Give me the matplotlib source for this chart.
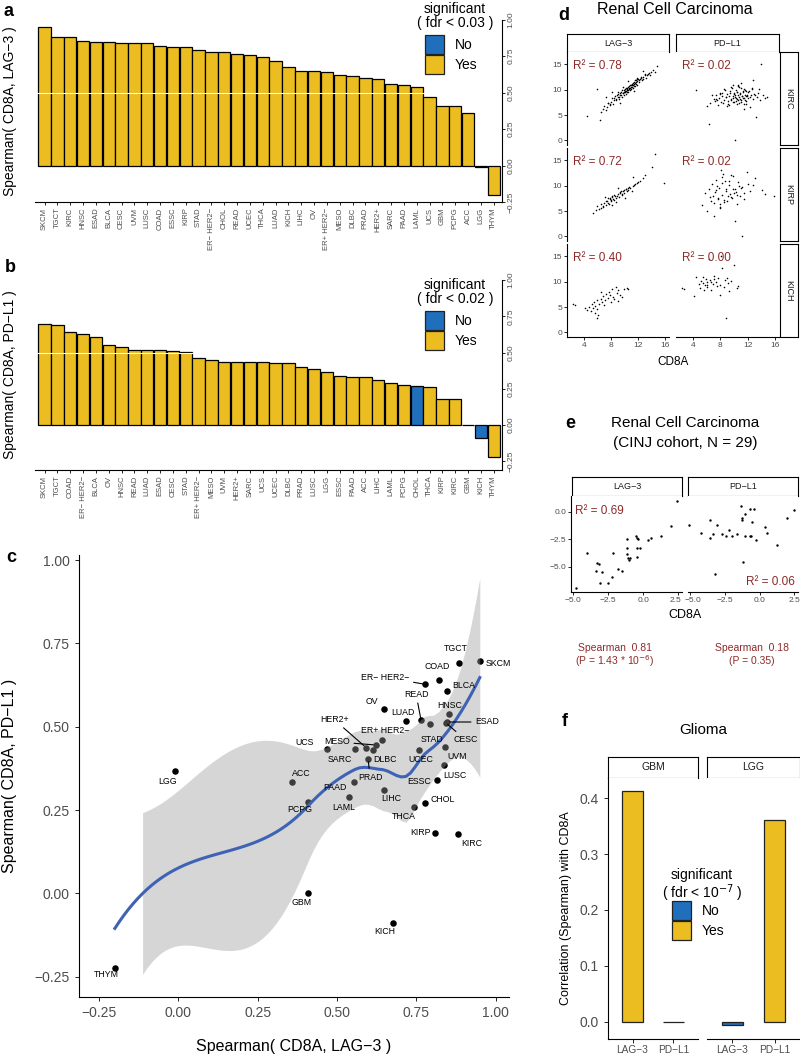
import numpy as np
import matplotlib as mpl
import matplotlib.pyplot as plt
import matplotlib.transforms as mtransforms
from matplotlib.patches import Rectangle

mpl.rcParams['font.family'] = ['Liberation Sans', 'DejaVu Sans']
mpl.rcParams['axes.linewidth'] = 0.8
mpl.rcParams['xtick.major.width'] = 0.6
mpl.rcParams['ytick.major.width'] = 0.6
mpl.rcParams['xtick.major.size'] = 2.5
mpl.rcParams['ytick.major.size'] = 2.5

#-----------------------------------------------------------------------------
# data: TCGA Spearman correlations (panels a, b, c)
cancers = ["SKCM", "TGCT", "KIRC", "HNSC", "ESAD", "BLCA", "CESC", "UVM", "LUSC",
           "COAD", "ESSC", "KIRP", "STAD", "ER\u2212 HER2\u2212", "CHOL", "READ", "UCEC",
           "THCA", "LUAD", "KICH", "LIHC", "OV", "ER+ HER2\u2212", "MESO", "DLBC", "PRAD",
           "HER2+", "SARC", "PAAD", "LAML", "UCS", "GBM", "PCPG", "ACC", "LGG", "THYM"]
rho_lag3 = [0.95, 0.884, 0.88, 0.852, 0.847, 0.847, 0.842, 0.84, 0.838,
            0.822, 0.815, 0.81, 0.792, 0.778, 0.776, 0.765, 0.758,
            0.742, 0.717, 0.678, 0.648, 0.648, 0.642, 0.623, 0.612, 0.598,
            0.592, 0.557, 0.553, 0.537, 0.468, 0.409, 0.409, 0.359, -0.01, -0.2]
rho_pdl1 = [0.696, 0.692, 0.178, 0.539, 0.514, 0.606, 0.512, 0.438, 0.385,
            0.641, 0.341, 0.182, 0.507, 0.627, 0.27, 0.519, 0.431,
            0.26, 0.516, -0.09, 0.311, 0.553, 0.459, 0.445, 0.430, 0.403,
            0.437, 0.433, 0.334, 0.29, 0.432, 0.0, 0.275, 0.333, 0.367, -0.223]
sig_lag3 = [True]*34 + [False, True]
sig_pdl1 = [n not in ("CHOL", "KICH") for n in cancers]

# label offsets in panel c (pixels, right / down) and leader lines
lab_off = {"SKCM": (6, 2, 'left'), "TGCT": (-3, -14), "COAD": (-2, -13), "ER\u2212 HER2\u2212": (-40, -7),
           "BLCA": (17, -6), "READ": (-5, -26), "OV": (-12, -7), "LUAD": (-3, -9), "HNSC": (1, -8),
           "ESAD": (28, 0, 'left'), "HER2+": (-32, -28), "ER+ HER2\u2212": (3, -10), "STAD": (2, 15),
           "CESC": (20, 17), "MESO": (-39, -3), "UCS": (-22, -7), "SARC": (-15, 10), "DLBC": (12, 10),
           "UCEC": (2, 10), "UVM": (12, 9), "PRAD": (2, 18), "ACC": (9, -9), "PAAD": (-19, 6),
           "LUSC": (11, 11), "ESSC": (-18, 2), "LIHC": (7, 9), "CHOL": (18, -4), "LAML": (-5, 11),
           "PCPG": (-8, 8), "THCA": (-10, 10), "KIRP": (-15, 0), "KIRC": (14, 9), "LGG": (-8, 11),
           "GBM": (-7, 9), "KICH": (-9, 8), "THYM": (-9, 7)}
leader = ["ER\u2212 HER2\u2212", "READ", "ESAD", "HER2+", "MESO", "CESC", "PRAD"]

# panel d: TCGA renal (CD8A vs LAG-3 / PD-L1)
kirc_cd8a = [4.5, 6.0, 6.4, 14.8, 6.5, 6.8, 7.0, 7.2, 7.4, 7.6, 7.8, 8.0, 8.1, 8.3, 8.5, 8.6,
             8.8, 9.0, 9.1, 9.2, 9.4, 9.5, 9.6, 9.8, 9.9, 10.0, 10.1, 10.2, 10.3, 10.4, 10.5,
             10.6, 10.7, 10.8, 10.9, 11.0, 11.1, 11.2, 11.3, 11.4, 11.5, 11.6, 11.7, 11.8,
             11.9, 12.0, 12.2, 12.3, 12.5, 12.6, 12.8, 13.0, 13.2, 13.4, 13.6, 13.8, 14.0,
             14.3, 14.5, 8.2, 9.3, 10.6, 11.4, 7.3, 12.8,
             7.5, 7.9, 8.4, 8.7, 8.9, 9.15, 9.35, 9.55, 9.7, 9.85, 9.95, 10.05, 10.15, 10.25,
             10.35, 10.45, 10.55, 10.65, 10.75, 10.85, 10.95, 11.05, 11.15, 11.25, 11.35,
             11.45, 11.55, 11.65, 11.75, 11.85, 12.1, 12.4, 12.7, 13.1, 13.5, 9.0, 9.8, 10.4,
             11.0, 11.8]
kirc_lag3 = [4.9, 10.1, 4.1, 14.7, 5.6, 6.2, 6.8, 5.9, 6.5, 7.3, 6.9, 7.6, 8.3, 7.2, 8.0, 8.8,
             7.9, 8.5, 9.2, 8.1, 8.9, 9.6, 8.6, 9.3, 10.0, 8.9, 9.6, 10.3, 9.2, 9.9, 10.6,
             9.6, 10.2, 10.9, 10.0, 10.6, 11.2, 10.3, 10.9, 11.5, 10.7, 11.3, 11.9, 11.0,
             11.6, 12.1, 11.4, 12.0, 12.5, 11.8, 12.4, 12.9, 12.3, 12.9, 13.3, 12.8, 13.5,
             13.9, 13.4, 9.5, 7.3, 11.6, 9.8, 8.5, 13.6,
             7.4, 7.2, 8.4, 8.2, 9.0, 8.6, 9.4, 9.0, 9.9, 9.4, 9.6, 10.2, 9.8, 9.7, 10.4,
             10.1, 10.0, 10.8, 10.4, 10.3, 11.0, 10.9, 10.5, 11.3, 11.1, 10.8, 11.8, 11.2,
             11.4, 12.0, 11.9, 12.3, 12.0, 13.0, 13.0, 9.6, 10.5, 9.6, 10.2, 12.2]
kirc_pdl1 = [9.9, 6.8, 3.2, 8.6, 7.4, 9.0, 8.1, 7.7, 8.9, 6.9, 8.3, 9.4, 7.5, 8.8, 10.2, 7.9,
             8.5, 9.1, 7.2, 8.7, 9.8, 8.0, 10.5, 7.6, 8.4, 9.3, 0.0, 8.9, 7.8, 9.6, 8.2,
             10.8, 7.4, 8.6, 9.2, 11.3, 8.0, 8.8, 9.5, 7.1, 8.4, 10.0, 8.7, 7.7, 9.0,
             8.3, 9.7, 6.6, 8.9, 10.4, 8.1, 9.2, 4.6, 8.6, 10.1, 7.9, 15.1, 9.0, 8.4, 9.3,
             7.0, 10.9, 6.2, 8.2, 11.9,
             8.0, 9.2, 7.3, 9.9, 8.5, 7.8, 9.4, 8.2, 10.3, 8.8, 7.5, 9.1, 8.6, 10.0, 8.3,
             9.5, 7.9, 8.9, 10.6, 8.1, 9.3, 7.6, 8.7, 9.8, 8.4, 10.2, 8.0, 9.0, 7.2, 8.8,
             9.6, 8.5, 10.1, 8.9, 9.4, 6.8, 11.0, 7.1, 10.4, 9.7]
kirp_cd8a = [5.3, 5.8, 6.0, 6.3, 6.6, 6.8, 7.0, 7.2, 7.4, 7.6, 7.8, 8.0, 8.2, 8.4, 8.6, 8.8,
             9.0, 9.2, 9.4, 9.6, 9.8, 10.0, 10.2, 10.4, 10.6, 10.9, 11.2, 11.5, 11.9, 12.3,
             12.8, 13.1, 14.1, 14.6, 7.1, 8.1, 9.1, 10.1, 11.1, 8.7, 15.9, 11.2,
             6.9, 7.3, 7.7, 8.3, 8.5, 8.9, 9.3, 9.7, 10.3, 10.7, 7.5, 8.0, 9.5, 10.5, 6.5,
             9.9, 8.2, 11.4, 12.0, 7.9]
kirp_lag3 = [4.6, 5.2, 5.9, 5.4, 6.3, 5.8, 6.6, 6.1, 7.0, 6.5, 7.3, 6.9, 7.7, 7.1, 8.0, 7.5,
             8.4, 7.8, 8.7, 8.2, 9.0, 8.6, 9.3, 8.9, 9.6, 9.5, 10.0, 10.3, 10.6, 11.0,
             11.5, 12.1, 13.6, 16.2, 7.8, 6.2, 9.6, 7.6, 9.0, 6.8, 10.5, 11.6,
             6.0, 7.0, 6.4, 7.4, 8.1, 8.0, 8.6, 8.4, 9.4, 9.8, 7.5, 7.1, 9.0, 9.2, 5.6,
             9.1, 7.9, 10.1, 10.8, 7.6]
kirp_pdl1 = [6.2, 8.5, 5.1, 9.3, 7.0, 10.4, 6.6, 8.8, 11.2, 7.4, 9.6, 5.8, 8.1, 12.3, 7.2, 9.0,
             6.9, 10.1, 8.3, 7.7, 11.8, 8.6, 9.4, 6.4, 10.7, 8.0, 9.8, 7.3, 12.6, 8.9,
             10.2, 11.5, 9.1, 8.4, 4.0, 13.0, 7.9, 3.1, 9.5, 10.9, 7.9, 0.0,
             8.0, 9.1, 7.6, 10.5, 6.8, 9.3, 11.0, 7.5, 8.7, 9.9, 10.0, 6.3, 12.0, 8.2, 7.8,
             9.4, 11.6, 8.6, 10.3, 5.5]
kich_cd8a = [2.35, 2.7, 4.2, 4.5, 4.8, 5.0, 5.2, 5.4, 5.5, 5.7, 5.9, 6.0, 6.1, 6.3, 6.5,
             6.7, 6.9, 7.1, 7.3, 7.5, 7.7, 7.9, 8.1, 8.3, 8.5, 8.7, 8.9, 9.1, 9.3, 9.6,
             10.0, 10.4, 10.6, 6.0, 7.0, 8.0, 9.0, 5.6, 6.6]
kich_lag3 = [5.5, 5.3, 4.8, 4.5, 5.0, 4.2, 5.6, 4.8, 5.9, 5.2, 6.3, 2.8, 3.4, 5.6, 6.6,
             5.9, 7.1, 6.4, 7.6, 6.8, 8.0, 7.3, 8.6, 7.0, 6.6, 8.9, 7.7, 8.3, 7.3, 6.9,
             8.5, 8.7, 8.6, 4.6, 5.4, 5.9, 6.1, 3.9, 7.9]
kich_pdl1 = [8.7, 8.6, 7.1, 10.9, 9.5, 8.8, 10.2, 9.8, 11.0, 9.3, 10.6, 8.9, 9.9, 14.4, 10.3,
             8.4, 9.6, 11.2, 10.0, 9.1, 10.7, 9.4, 15.0, 12.6, 9.0, 10.4, 2.9, 9.7, 8.2,
             10.1, 13.3, 8.8, 9.2, 9.4, 10.5, 7.3, 10.8, 8.3, 9.9]
renal_rows = [("KIRC", kirc_cd8a, kirc_lag3, kirc_pdl1, "0.78", "0.02"),
              ("KIRP", kirp_cd8a, kirp_lag3, kirp_pdl1, "0.72", "0.02"),
              ("KICH", kich_cd8a, kich_lag3, kich_pdl1, "0.40", "0.00")]

# panel e: CINJ cohort, N = 29
cinj_cd8a_l = [2.38, 1.97, 1.24, 0.53, 0.37, -0.22, -0.41, -0.41, -0.5, -0.45, -0.4, -1.17,
               -1.17, -1.17, -1.1, -0.98, -0.93, -2.12, -1.76, -1.53, -3.3, -3.13, -3.35,
               -2.94, -3.06, -2.54, -2.23, -4.0, -4.79]
cinj_lag3 = [0.97, -1.30, -2.15, -2.33, -2.52, -3.24, -3.24, -4.09, -2.2, -2.35, -2.5, -2.42,
             -3.33, -3.79, -4.24, -4.39, -4.2, -3.73, -5.21, -5.39, -4.64, -4.76, -5.39,
             -5.52, -6.52, -6.45, -5.91, -3.70, -6.91]
cinj_cd8a_p = [-5.05, -4.21, -3.57, -3.53, -3.35, -3.08, -2.67, -2.42, -2.22, -1.98, -1.61,
               -1.31, -1.26, -1.24, -1.02, -1.02, -0.70, -0.41, -0.51, -0.70, -0.58, -0.26,
               -1.19, -3.23, 0.41, 0.53, 1.22, 2.0, 2.44]
cinj_pdl1 = [-1.21, -1.91, -0.76, -2.33, -1.97, -1.15, -2.03, -2.21, -1.61, -2.21, -2.03,
             0.55, -0.55, -0.70, -0.15, -2.21, 0.30, 0.30, -0.91, -2.21, -2.21, -2.58,
             -4.55, -5.67, -1.36, -1.88, -3.03, -0.52, 0.21]

# panel f: glioma
glioma_type = ["GBM", "GBM", "LGG", "LGG"]
glioma_gene = ["LAG\u22123", "PD\u2212L1", "LAG\u22123", "PD\u2212L1"]
glioma_rho = [0.413, 0.0, -0.006, 0.36]
glioma_sig = [True, True, False, True]

#-----------------------------------------------------------------------------
yellow = '#EBBD20'
blue = '#1F6FBD'
red = '#8E2A2A'
tgrey = '#4D4D4D'
W, H = 800, 1055
fig = plt.figure(figsize=(W/100, H/100), dpi=100)

def box(x0, y0, x1, y1):
    return fig.add_axes([x0/W, 1-y1/H, (x1-x0)/W, (y1-y0)/H])

def ftext(x, y, s, **kw):
    fig.text(x/W, 1-y/H, s, **kw)

def legend(x, y, fdr):
    # manual ggplot-like legend, x, y = top left in pixels
    ftext(x + 30, y, "significant", fontsize=10, ha='center', va='top')
    ftext(x + 30, y + 14, fdr, fontsize=10, ha='center', va='top')
    for k, (c, lab) in enumerate([(blue, "No"), (yellow, "Yes")]):
        yy = y + 33 + 20*k
        fig.patches.append(Rectangle((x/W, 1-(yy+19)/H), 19/W, 19/H, transform=fig.transFigure,
                                     facecolor=c, edgecolor='#222222', lw=0.9))
        ftext(x + 30, yy + 10, lab, fontsize=10, va='center')

def bar_panel(rect, names, vals, sig, ylim):
    ax = box(*rect)
    cols = [yellow if s else blue for s in sig]
    ax.bar(np.arange(len(names)), vals, width=0.96, color=cols, edgecolor='black', linewidth=0.9)
    ax.axhline(0.5, color='white', lw=0.8, zorder=3)
    ax.set_xlim(-0.75, len(names) - 0.35)
    ax.set_ylim(*ylim)
    ax.yaxis.tick_right()
    yt = [-0.25, 0, 0.25, 0.5, 0.75, 1.0]
    ax.set_yticks(yt)
    ax.set_yticklabels(["\u22120.25", "0.00", "0.25", "0.50", "0.75", "1.00"], rotation=90,
                       va='center', fontsize=6, color=tgrey)
    ax.set_xticks(range(len(names)))
    ax.set_xticklabels(names, rotation=90, fontsize=5.5, color=tgrey)
    ax.tick_params(pad=1.5)
    ax.spines[['left', 'top']].set_visible(False)
    return ax

# ---- a
bar_panel((35, 19.7, 502, 202), cancers, rho_lag3, sig_lag3, (-0.25, 1.0))
ftext(10, 111, "Spearman( CD8A, LAG\u22123 )", rotation=90, fontsize=10, ha='center', va='center')
ftext(4, 12, "a", fontsize=13, fontweight='bold', va='center')
legend(425, 2, "( fdr < 0.03 )")

# ---- b
ob = np.argsort(-np.array(rho_pdl1), kind='stable')
bar_panel((35, 280, 502, 470), [cancers[i] for i in ob], [rho_pdl1[i] for i in ob],
          [sig_pdl1[i] for i in ob], (-0.31, 1.0))
ftext(10, 375, "Spearman( CD8A, PD\u2212L1 )", rotation=90, fontsize=10, ha='center', va='center')
ftext(5, 267, "b", fontsize=13, fontweight='bold', va='center')
legend(425, 278, "( fdr < 0.02 )")

# ---- c : loess smoother (span .75, degree 2, kd-tree vertices + cubic Hermite, as in R)
def local_fit(x, x0s, span=0.75):
    n = len(x)
    q = int(np.floor(n*span))
    V = np.zeros((len(x0s), n)); S = np.zeros((len(x0s), n))
    for i, x0 in enumerate(x0s):
        d = np.abs(x - x0)
        h = np.sort(d)[q-1]
        w = np.clip(1 - (d/h)**3, 0, None)**3
        X = np.column_stack([np.ones(n), x - x0, (x - x0)**2])
        XtW = X.T*w
        B = np.linalg.solve(XtW @ X, XtW)
        V[i] = B[0]; S[i] = B[1]
    return V, S

def kd_vertices(x, fc):
    xs_ = np.sort(x); n = len(xs_)
    mu = 0.005*(xs_[-1] - xs_[0])
    out = []
    def split(l, u, a, b):
        if u - l + 1 <= fc:
            return
        m = (l + u)//2
        off = 0
        while l <= m + off < u:
            if xs_[m+off] == xs_[m+off+1]:
                off = -off
                if off >= 0:
                    off += 1
            else:
                m = m + off
                break
        t = xs_[m]
        if t == a or t == b:
            return
        split(l, m, a, t); out.append(t); split(m+1, u, t, b)
    split(0, n-1, xs_[0] - mu, xs_[-1] + mu)
    return np.array([xs_[0] - mu] + out + [xs_[-1] + mu])

def interp_rows(xq, vt, V, S):
    rows = []
    for x0 in xq:
        j = int(np.clip(np.searchsorted(vt, x0) - 1, 0, len(vt) - 2))
        h = vt[j+1] - vt[j]; t = (x0 - vt[j])/h
        h00 = 2*t**3 - 3*t**2 + 1; h10 = t**3 - 2*t**2 + t
        h01 = -2*t**3 + 3*t**2; h11 = t**3 - t**2
        rows.append(h00*V[j] + h10*h*S[j] + h01*V[j+1] + h11*h*S[j+1])
    return np.array(rows)

xl = np.array(rho_lag3); yl = np.array(rho_pdl1)
vt = kd_vertices(xl, int(np.floor(len(xl)*0.75*0.2)))
V, S = local_fit(xl, vt)
Ld = interp_rows(xl, vt, V, S)
M = np.eye(len(xl)) - Ld
MM = M.T @ M
d1 = np.trace(MM); d2 = np.trace(MM @ MM)
sig2 = np.sum((M @ yl)**2)/d1
dfree = d1**2/d2
z = 1.959964
tq = z + (z**3 + z)/(4*dfree) + (5*z**5 + 16*z**3 + 3*z)/(96*dfree**2)
xs = np.linspace(xl.min(), xl.max(), 80)
Lg = interp_rows(xs, vt, V, S)
fit = Lg @ yl
se = np.sqrt(sig2*np.sum(Lg**2, axis=1))
lo, hi = fit - tq*se, fit + tq*se

ax = box(79, 555, 509, 997)
cyl = (-0.311, 1.015)
ax.scatter(xl, yl, s=22, color='black', zorder=2, linewidths=0)
ok = (lo >= -0.25) & (hi <= 1.0)
ax.fill_between(xs, lo, hi, where=ok, color='#999999', alpha=0.4, lw=0, zorder=3)
ax.plot(xs, fit, color='#3F63B4', lw=2.2, zorder=4)
for n, xv, yv in zip(cancers, xl, yl):
    o = lab_off[n]
    ha = o[2] if len(o) > 2 else 'center'
    ap = dict(arrowstyle='-', color='black', lw=0.8, shrinkA=1, shrinkB=2) if n in leader else None
    ax.annotate(n, (xv, yv), xytext=(o[0], -o[1]), textcoords='offset pixels', ha=ha, va='center',
                fontsize=6.3, arrowprops=ap, zorder=5)
ax.set_xlim(-0.313, 1.042)
ax.set_ylim(*cyl)
ax.set_xticks([-0.25, 0, 0.25, 0.5, 0.75, 1.0])
ax.set_xticklabels(["\u22120.25", "0.00", "0.25", "0.50", "0.75", "1.00"])
ax.set_yticks([-0.25, 0, 0.25, 0.5, 0.75, 1.0])
ax.set_yticklabels(["\u22120.25", "0.00", "0.25", "0.50", "0.75", "1.00"])
ax.tick_params(labelsize=10, labelcolor=tgrey, length=3)
ax.spines[['right', 'top']].set_visible(False)
ax.set_xlabel("Spearman( CD8A, LAG\u22123 )", fontsize=11.5, labelpad=14)
ftext(10, 776, "Spearman( CD8A, PD\u2212L1 )", rotation=90, fontsize=11.5, ha='center', va='center')
ftext(6, 558, "c", fontsize=13, fontweight='bold', va='center')

# ---- d
def strip(x0, y0, x1, y1, s, rot=0, fs=6.5):
    a = box(x0, y0, x1, y1)
    a.set_xticks([]); a.set_yticks([])
    a.text(0.5, 0.5, s, rotation=rot, ha='center', va='center', fontsize=fs, color='#1A1A1A',
           transform=a.transAxes)

ftext(558, 15, "d", fontsize=13, fontweight='bold', va='center')
ftext(675, 9, "Renal Cell Carcinoma", fontsize=11.5, ha='center', va='center')
cols_d = [(567, 669), (676, 779)]
rows_d = [(52, 145), (148, 241), (244, 337)]
strip(567, 34, 669, 52, "LAG\u22123")
strip(676, 34, 779, 52, "PD\u2212L1")
for r, (name, cx, lag, pdl, r2l, r2p) in enumerate(renal_rows):
    y0, y1 = rows_d[r]
    strip(780, y0, 798, y1, name, rot=-90)
    for c, (yy, r2) in enumerate([(lag, r2l), (pdl, r2p)]):
        x0, x1 = cols_d[c]
        a = box(x0, y0, x1, y1)
        a.scatter(cx, yy, s=1.3, color='black', linewidths=0)
        a.set_xlim(1.5, 16.6); a.set_ylim(-0.9, 17.4)
        a.set_xticks([4, 8, 12, 16]); a.set_yticks([0, 5, 10, 15])
        a.tick_params(labelsize=6, labelcolor=tgrey, length=2, pad=1.5)
        a.spines[['right', 'top']].set_visible(False)
        if c == 1:
            a.spines['left'].set_visible(False)
            a.tick_params(left=False, labelleft=False)
        if r < 2:
            a.spines['bottom'].set_visible(False)
            a.tick_params(bottom=False, labelbottom=False)
        a.text(0.06, 0.85, "R\u00b2 = " + r2, transform=a.transAxes, color=red, fontsize=8.5,
               va='center')
ftext(673, 362, "CD8A", fontsize=8.5, ha='center', va='center')

# ---- e
ftext(565, 423, "e", fontsize=13, fontweight='bold', va='center')
ftext(685, 423, "Renal Cell Carcinoma", fontsize=11, ha='center', va='center')
ftext(685, 443, "(CINJ cohort, N = 29)", fontsize=11, ha='center', va='center')
strip(572, 477, 682, 496, "LAG\u22123")
strip(688, 477, 798, 496, "PD\u2212L1")
for c, (x0, x1, cx, yy) in enumerate([(571, 682, cinj_cd8a_l, cinj_lag3),
                                      (688, 798, cinj_cd8a_p, cinj_pdl1)]):
    a = box(x0, 496, x1, 592)
    a.scatter(cx, yy, s=3, color='black', linewidths=0)
    a.set_xlim(-5.14, 2.76); a.set_ylim(-7.3, 1.46)
    a.set_xticks([-5, -2.5, 0, 2.5]); a.set_xticklabels(["\u22125.0", "\u22122.5", "0.0", "2.5"])
    a.set_yticks([-5, -2.5, 0]); a.set_yticklabels(["\u22125.0", "\u22122.5", "0.0"])
    a.tick_params(labelsize=6, labelcolor=tgrey, length=2, pad=1.5)
    a.spines[['right', 'top']].set_visible(False)
    # nudge the touching end labels ("2.5" | "-5.0") apart a little
    labs = a.get_xticklabels()
    k, dx = (3, -3) if c == 0 else (0, 3)
    labs[k].set_transform(labs[k].get_transform() + mtransforms.ScaledTranslation(dx/100, 0, fig.dpi_scale_trans))
    if c == 1:
        a.spines['left'].set_visible(False)
        a.tick_params(left=False, labelleft=False)
        a.text(0.97, 0.1, "R\u00b2 = 0.06", transform=a.transAxes, color=red, fontsize=8.5,
               ha='right', va='center')
    else:
        a.text(0.04, 0.84, "R\u00b2 = 0.69", transform=a.transAxes, color=red, fontsize=8.5,
               va='center')
ftext(685, 615, "CD8A", fontsize=9, ha='center', va='center')
ftext(615, 648, "Spearman  0.81", fontsize=7.5, color=red, ha='center', va='center')
ftext(615, 661, "(P = 1.43 * 10$^{-6}$)", fontsize=7.5, color=red, ha='center', va='center')
ftext(752, 648, "Spearman  0.18", fontsize=7.5, color=red, ha='center', va='center')
ftext(752, 661, "(P = 0.35)", fontsize=7.5, color=red, ha='center', va='center')

# ---- f
ftext(562, 722, "f", fontsize=13, fontweight='bold', va='center')
ftext(703, 730, "Glioma", fontsize=11, ha='center', va='center')
for k, (t, x0, x1) in enumerate([("GBM", 608, 698), ("LGG", 707, 800)]):
    strip(x0, 757, x1, 778, t, fs=7.5)
    a = box(x0, 778, x1, 1039)
    idx = [i for i in range(4) if glioma_type[i] == t]
    a.bar(range(len(idx)), [glioma_rho[i] for i in idx], width=0.5,
          color=[yellow if glioma_sig[i] else blue for i in idx], edgecolor='#222222', lw=0.9)
    a.set_xlim(-0.6, 1.6)
    a.set_ylim(-0.031, 0.436)
    a.set_xticks(range(len(idx)))
    a.set_xticklabels([glioma_gene[i] for i in idx], fontsize=7.3, color=tgrey)
    a.set_yticks([0, 0.1, 0.2, 0.3, 0.4])
    a.tick_params(axis='y', labelsize=10, labelcolor=tgrey, length=3)
    a.tick_params(axis='x', length=3, pad=1.5)
    a.spines[['right', 'top']].set_visible(False)
    if k == 1:
        a.spines['left'].set_visible(False)
        a.tick_params(left=False, labelleft=False)
ftext(566, 908, "Correlation (Spearman) with CD8A", rotation=90, fontsize=9, ha='center', va='center')
legend(672, 868, "( fdr < 10$^{-7}$ )")

fig.savefig("out.png", dpi=100)
